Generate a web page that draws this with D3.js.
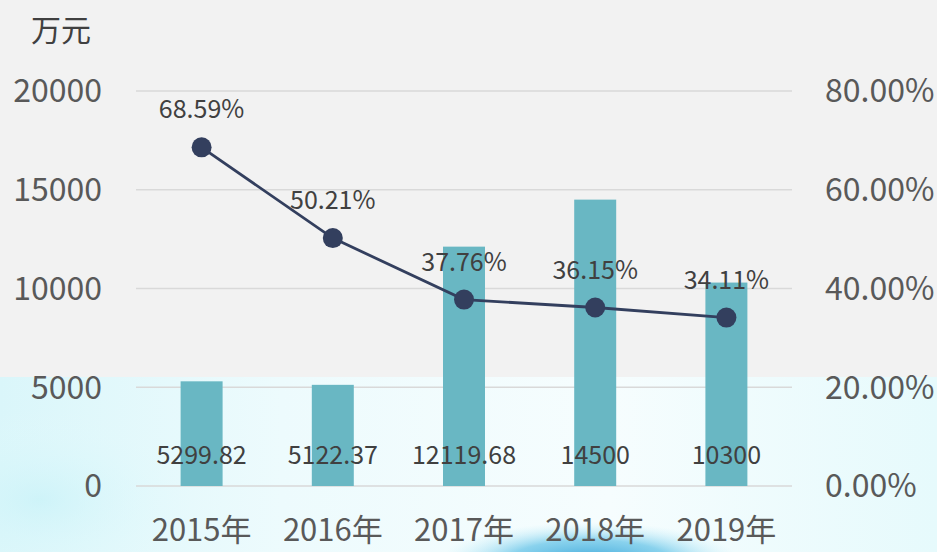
<!DOCTYPE html>
<html><head><meta charset="utf-8">
<script src="https://cdn.jsdelivr.net/npm/d3@7"></script>
<style>html,body{margin:0;padding:0;background:#f2f2f2;}svg{display:block;}</style>
</head><body>
<svg id="chart" width="937" height="552"></svg>
<script>
const categories = ["2015年","2016年","2017年","2018年","2019年"];
const barValues = [5299.82, 5122.37, 12119.68, 14500, 10300];
const barLabels = ["5299.82","5122.37","12119.68","14500","10300"];
const rateValues = [0.6859, 0.5021, 0.3776, 0.3615, 0.3411];
const leftTicks = [0, 5000, 10000, 15000, 20000];
const rightTicks = [0, 0.2, 0.4, 0.6, 0.8];
const unitLabel = "万元";

const W = 937, H = 552;
const svg = d3.select("#chart");
const font = "'Noto Sans CJK SC','Noto Sans',sans-serif";

// background
const defs = svg.append("defs");
const g1 = defs.append("linearGradient").attr("id","water").attr("x1",0).attr("y1",0).attr("x2",1).attr("y2",0);
g1.append("stop").attr("offset","0%").attr("stop-color","#daf6fa");
g1.append("stop").attr("offset","30%").attr("stop-color","#edfbfd");
g1.append("stop").attr("offset","65%").attr("stop-color","#f6fdfe");
g1.append("stop").attr("offset","100%").attr("stop-color","#e6fafc");
const rg = defs.append("radialGradient").attr("id","blob");
rg.append("stop").attr("offset","0%").attr("stop-color","#2f9fd6").attr("stop-opacity",0.95);
rg.append("stop").attr("offset","55%").attr("stop-color","#5cc0e6").attr("stop-opacity",0.7);
rg.append("stop").attr("offset","100%").attr("stop-color","#bfeefa").attr("stop-opacity",0);
const rg2 = defs.append("radialGradient").attr("id","haze");
rg2.append("stop").attr("offset","0%").attr("stop-color","#c8f2f8").attr("stop-opacity",0.7);
rg2.append("stop").attr("offset","100%").attr("stop-color","#e6fbfd").attr("stop-opacity",0);

svg.append("rect").attr("x",0).attr("y",0).attr("width",W).attr("height",H).attr("fill","#f2f2f2");
svg.append("rect").attr("x",0).attr("y",377).attr("width",W).attr("height",H-377).attr("fill","url(#water)");
svg.append("ellipse").attr("cx",40).attr("cy",500).attr("rx",160).attr("ry",90).attr("fill","url(#haze)");
svg.append("ellipse").attr("cx",590).attr("cy",562).attr("rx",150).attr("ry",40).attr("fill","url(#blob)");

// scales
const x = d3.scaleBand().domain(categories).range([136, 792]).paddingInner(0.68).paddingOuter(0.34);
const yL = d3.scaleLinear().domain([0, 20000]).range([486, 91]);
const yR = d3.scaleLinear().domain([0, 0.8]).range([486, 91]);

// gridlines
svg.append("g").selectAll("line").data(leftTicks).join("line")
  .attr("x1",136).attr("x2",792)
  .attr("y1",d=>yL(d)).attr("y2",d=>yL(d))
  .attr("stroke","#d9d9d9").attr("stroke-width",1.5);

// left axis
const axL = d3.axisLeft(yL).tickValues(leftTicks).tickSize(0).tickPadding(0).tickFormat(d3.format("d"));
const gL = svg.append("g").attr("transform","translate(102,0)").call(axL);
gL.select(".domain").remove();
gL.selectAll("text").attr("font-family",font).attr("font-size",32).attr("fill","#595959").attr("dy","0.34em");

// right axis
const axR = d3.axisRight(yR).tickValues(rightTicks).tickSize(0).tickPadding(0).tickFormat(d3.format(".2%"));
const gR = svg.append("g").attr("transform","translate(825,0)").call(axR);
gR.select(".domain").remove();
gR.selectAll("text").attr("font-family",font).attr("font-size",32).attr("fill","#595959").attr("dy","0.34em");

// x axis
const axX = d3.axisBottom(x).tickSize(0).tickPadding(0);
const gX = svg.append("g").attr("transform","translate(0,530)").call(axX);
gX.select(".domain").remove();
gX.selectAll("text").attr("font-family",font).attr("font-size",31).attr("fill","#595959").attr("dy","0.34em");

// unit
svg.append("text").attr("x",61).attr("y",30).attr("dy","0.36em").attr("text-anchor","middle")
  .attr("font-family",font).attr("font-size",30).attr("fill","#404040").text(unitLabel);

// bars
svg.append("g").selectAll("rect").data(categories).join("rect")
  .attr("x",d=>x(d)).attr("width",x.bandwidth())
  .attr("y",(d,i)=>yL(barValues[i])).attr("height",(d,i)=>yL(0)-yL(barValues[i]))
  .attr("fill","#69b7c3");

// bar labels
svg.append("g").selectAll("text").data(categories).join("text")
  .attr("x",d=>x(d)+x.bandwidth()/2).attr("y",455).attr("dy","0.36em")
  .attr("text-anchor","middle").attr("font-family",font).attr("font-size",25).attr("fill","#404040")
  .text((d,i)=>barLabels[i]);

// line
const line = d3.line().x((d,i)=>x(categories[i])+x.bandwidth()/2).y(d=>yR(d));
svg.append("path").datum(rateValues).attr("d",line).attr("fill","none")
  .attr("stroke","#333f5e").attr("stroke-width",2.8);
svg.append("g").selectAll("circle").data(rateValues).join("circle")
  .attr("cx",(d,i)=>x(categories[i])+x.bandwidth()/2).attr("cy",d=>yR(d)).attr("r",10)
  .attr("fill","#333f5e");

// line labels
svg.append("g").selectAll("text").data(rateValues).join("text")
  .attr("x",(d,i)=>x(categories[i])+x.bandwidth()/2).attr("y",d=>yR(d)-38).attr("dy","0.36em")
  .attr("text-anchor","middle").attr("font-family",font).attr("font-size",25).attr("fill","#404040")
  .text(d=>d3.format(".2%")(d));
</script>
</body></html>
